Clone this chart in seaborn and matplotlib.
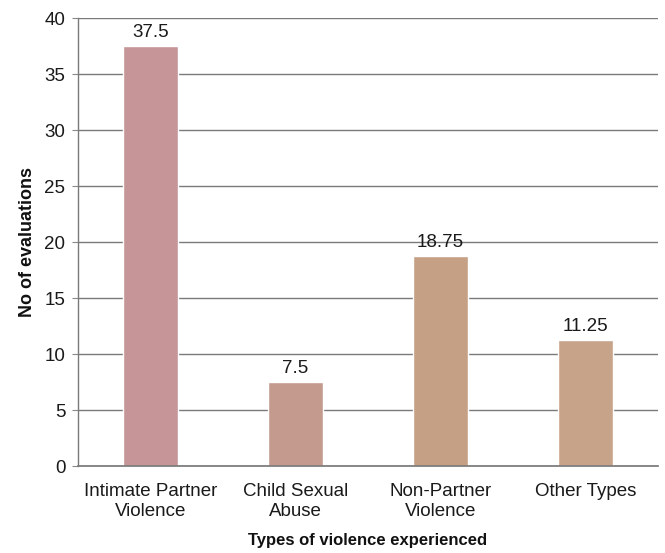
import matplotlib
matplotlib.use("Agg")
import matplotlib.pyplot as plt
import seaborn as sns
import pandas as pd

categories = ["Intimate Partner\nViolence", "Child Sexual\nAbuse", "Non-Partner\nViolence", "Other Types"]
values = [37.5, 7.5, 18.75, 11.25]
value_labels = ["37.5", "7.5", "18.75", "11.25"]
yticks = [0, 5, 10, 15, 20, 25, 30, 35, 40]
bar_colors = ["#c59597", "#c39a8d", "#c6a085", "#c6a389"]

sns.set_theme(style="white")
plt.rcParams['font.family'] = ['Liberation Sans', 'DejaVu Sans']

df = pd.DataFrame({"cat": categories, "val": values})

fig = plt.figure(figsize=(6.65, 5.53), dpi=100)
ax = fig.add_axes([0.117, 0.157, 0.872, 0.810])

sns.barplot(data=df, x="cat", y="val", hue="cat", palette=bar_colors,
            width=0.38, legend=False, ax=ax, saturation=1)

ax.set_ylim(0, 40)
ax.set_xlim(-0.5, 3.5)
ax.set_yticks(yticks)
ax.set_yticklabels([str(t) for t in yticks], fontsize=13.5, color="#1a1a1a")
ax.tick_params(axis="x", labelsize=13.5, length=0, pad=12, colors="#1a1a1a")
for t in ax.get_xticklabels():
    t.set_linespacing(1.25)
ax.tick_params(axis="y", length=4, width=0.8, color="#888888", left=True, pad=5)
ax.yaxis.grid(True, color="#7a7a7a", linewidth=1.0)
ax.set_axisbelow(True)

for s in ["top", "right"]:
    ax.spines[s].set_visible(False)
ax.spines["bottom"].set_color("#7a7a7a")
ax.spines["left"].set_color("#7a7a7a")
ax.spines["left"].set_linewidth(1.0)

for p, lab in zip(ax.patches, value_labels):
    ax.annotate(lab, (p.get_x() + p.get_width() / 2, p.get_height()),
                xytext=(0, 4), textcoords="offset points",
                ha="center", va="bottom", fontsize=13.5, color="#1a1a1a")

ax.set_xlabel("Types of violence experienced", fontsize=12, fontweight="bold", labelpad=9, color="#111111")
ax.set_ylabel("No of evaluations", fontsize=13, fontweight="bold", labelpad=6, color="#111111")

fig.savefig("out.png", dpi=100, facecolor="white")
